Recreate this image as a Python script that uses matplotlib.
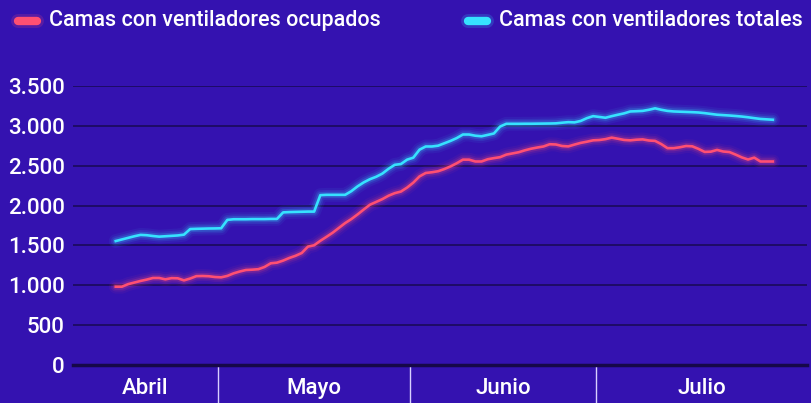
import matplotlib
matplotlib.use('Agg')
import matplotlib.pyplot as plt
from matplotlib.lines import Line2D
from matplotlib.ticker import FuncFormatter
import numpy as np

# dias contados desde el 1 de abril (0 = 1 abr); la serie va del 14 abr al 29 jul
START_DAY = 13
MONTHS = ['Abril', 'Mayo', 'Junio', 'Julio']
MONTH_STARTS = [30, 61, 91]   # 1 may, 1 jun, 1 jul

ocupados = [
    983, 983, 1015, 1035, 1055, 1072, 1092, 1092, 1075, 1090,
    1088, 1062, 1085, 1115, 1117, 1114, 1104, 1100, 1118, 1150,
    1173, 1192, 1196, 1202, 1230, 1276, 1284, 1310, 1343, 1370,
    1405, 1485, 1502, 1558, 1608, 1660, 1720, 1780, 1830, 1888,
    1950, 2010, 2045, 2080, 2123, 2155, 2175, 2225, 2287, 2365,
    2408, 2417, 2430, 2457, 2490, 2530, 2575, 2575, 2552, 2552,
    2580, 2594, 2606, 2638, 2653, 2668, 2692, 2712, 2727, 2740,
    2768, 2765, 2746, 2741, 2764, 2785, 2800, 2817, 2821, 2832,
    2851, 2837, 2822, 2817, 2825, 2829, 2815, 2810, 2770, 2719,
    2719, 2730, 2746, 2742, 2710, 2672, 2675, 2697, 2677, 2670,
    2638, 2603, 2577, 2600, 2552, 2552, 2552,
]
totales = [
    1555, 1575, 1595, 1615, 1632, 1628, 1618, 1610, 1615, 1620,
    1625, 1635, 1705, 1708, 1710, 1712, 1713, 1715, 1820, 1828,
    1828, 1828, 1830, 1830, 1830, 1832, 1832, 1914, 1918, 1920,
    1922, 1924, 1924, 2130, 2134, 2134, 2134, 2134, 2180, 2240,
    2290, 2330, 2360, 2400, 2460, 2510, 2520, 2575, 2600, 2700,
    2740, 2740, 2750, 2780, 2810, 2845, 2890, 2890, 2875, 2868,
    2885, 2903, 2990, 3024, 3024, 3024, 3025, 3025, 3026, 3027,
    3028, 3030, 3038, 3045, 3042, 3060, 3095, 3120, 3110, 3100,
    3120, 3138, 3155, 3179, 3182, 3186, 3200, 3218, 3200, 3186,
    3179, 3176, 3173, 3170, 3166, 3158, 3148, 3138, 3133, 3128,
    3122, 3115, 3106, 3095, 3085, 3080, 3075,
]

BG = '#3412b0'
RED = '#ff4f72'
CYAN = '#36e2ff'
FONT = 'Roboto'
WEIGHT = 'medium'

days = START_DAY + 0.5 + np.arange(len(ocupados))

fig = plt.figure(figsize=(8.11, 4.03), dpi=100, facecolor=BG)
ax = fig.add_axes([0.090, 0.094, 0.905, 0.693], facecolor=BG)


def glow_line(x, y, color):
    for lw, a in [(10, 0.06), (7, 0.10), (4.5, 0.18)]:
        ax.plot(x, y, color=color, lw=lw, alpha=a, solid_capstyle='round', zorder=3)
    ax.plot(x, y, color=color, lw=1.9, zorder=4, solid_joinstyle='round')


glow_line(days, totales, CYAN)
glow_line(days, ocupados, RED)

x0, x1 = 6.6, 125.0
ax.set_xlim(x0, x1)
ax.set_ylim(0, 3500)
ax.set_yticks(np.arange(0, 3501, 500))
ax.yaxis.set_major_formatter(FuncFormatter(lambda v, p: f'{int(v):,}'.replace(',', '.')))
ax.tick_params(axis='y', length=0, pad=6, labelcolor='white', labelsize=16)
for lab in ax.get_yticklabels():
    lab.set_fontfamily(FONT)
    lab.set_fontweight(WEIGHT)
ax.set_xticks([])
ax.grid(axis='y', color='#1a0a5a', lw=1.2)
ax.set_axisbelow(True)
for s in ['top', 'right', 'left']:
    ax.spines[s].set_visible(False)
ax.spines['bottom'].set_color('#160848')
ax.spines['bottom'].set_linewidth(2.5)
ax.spines['bottom'].set_zorder(5)

# separadores y nombres de mes
bounds = [x0] + MONTH_STARTS + [x1]
trans = ax.get_xaxis_transform()
for m in MONTH_STARTS:
    ax.plot([m, m], [-0.005, -0.14], color='#d8d0ff', lw=1, transform=trans, clip_on=False)
for i, name in enumerate(MONTHS):
    ax.text((bounds[i] + bounds[i + 1]) / 2, -0.085, name, transform=trans,
            ha='center', va='center', color='white', fontsize=16, family=FONT,
            fontweight=WEIGHT)

# leyenda
legend = [('Camas con ventiladores ocupados', RED, 0.016),
          ('Camas con ventiladores totales', CYAN, 0.571)]
for label, color, xl in legend:
    for lw, a in [(10, 0.18), (6, 1.0)]:
        fig.add_artist(Line2D([xl + 0.006, xl + 0.030], [0.948, 0.948], color=color,
                              lw=lw, alpha=a, solid_capstyle='round'))
    fig.text(xl + 0.044, 0.948, label, color='white', fontsize=15.5,
             family=FONT, fontweight=WEIGHT, va='center', ha='left')

fig.savefig('out.png', dpi=100, facecolor=BG)
